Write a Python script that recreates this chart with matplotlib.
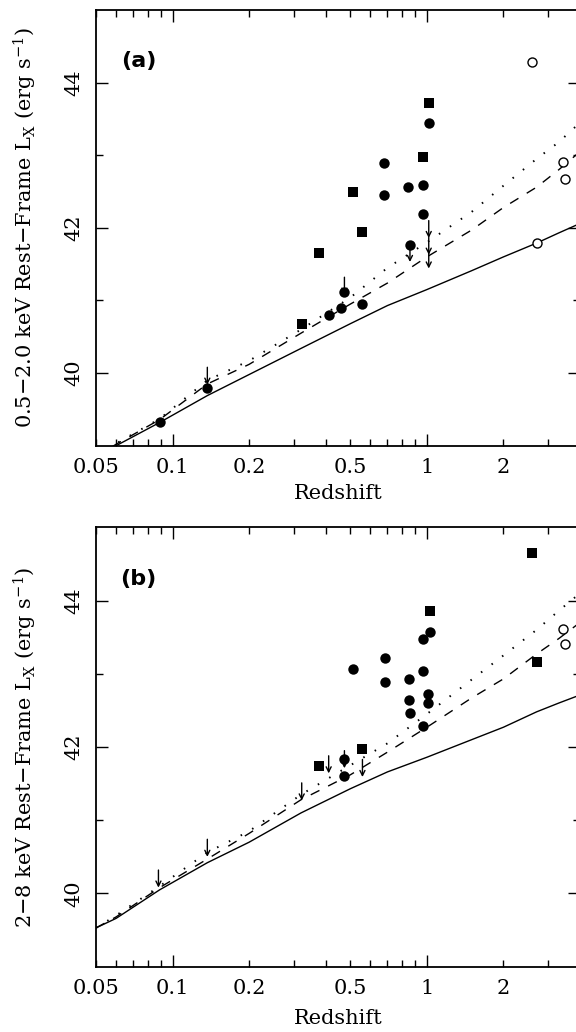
import numpy as np
import matplotlib
matplotlib.use('Agg')
import matplotlib.pyplot as plt
from matplotlib.ticker import FixedLocator, FuncFormatter

# ---------------- data ----------------
# model curves (common redshift grid)
z_curve = [0.05, 0.06, 0.089, 0.137, 0.2, 0.32, 0.5, 0.7, 1.0, 1.5, 2.0, 2.7, 3.3, 4.0]

solid_a = [38.85, 39.00, 39.32, 39.69, 39.98, 40.34, 40.68, 40.93, 41.15, 41.41, 41.60, 41.79, 41.93, 42.06]
dashed_a = [38.85, 39.02, 39.36, 39.85, 40.12, 40.55, 40.95, 41.24, 41.60, 41.97, 42.28, 42.56, 42.80, 43.05]
dotted_a = [38.85, 39.03, 39.37, 39.90, 40.17, 40.60, 41.04, 41.45, 41.80, 42.22, 42.58, 42.95, 43.18, 43.45]

solid_b = [39.53, 39.66, 40.05, 40.42, 40.70, 41.10, 41.43, 41.66, 41.86, 42.10, 42.27, 42.48, 42.60, 42.71]
dashed_b = [39.53, 39.68, 40.08, 40.47, 40.82, 41.28, 41.62, 41.93, 42.27, 42.67, 42.93, 43.27, 43.48, 43.70]
dotted_b = [39.53, 39.70, 40.10, 40.56, 40.85, 41.35, 41.75, 42.05, 42.45, 42.92, 43.25, 43.60, 43.86, 44.10]

# panel (a): 0.5-2.0 keV
za_circ = [0.089, 0.137, 0.411, 0.458, 0.474, 0.558, 0.680, 0.680, 0.844, 0.858, 0.964, 0.964, 1.023]
La_circ = [39.33, 39.80, 40.80, 40.89, 41.12, 40.95, 42.89, 42.45, 42.56, 41.77, 42.59, 42.19, 43.44]
za_sq = [0.322, 0.378, 0.513, 0.555, 0.964, 1.023]
La_sq = [40.67, 41.66, 42.50, 41.94, 42.98, 43.72]
za_open = [2.60, 3.43, 3.49, 2.71]
La_open = [44.28, 42.90, 42.67, 41.79]
za_ul = [0.137, 0.474, 0.858, 1.017, 1.017, 1.017]
La_ul = [40.08, 41.32, 41.77, 42.10, 41.87, 41.68]

# panel (b): 2-8 keV
zb_circ = [0.513, 0.684, 0.684, 0.850, 0.850, 0.858, 0.967, 0.967, 0.967, 1.028, 1.010, 1.010, 0.474, 0.474]
Lb_circ = [43.07, 43.22, 42.89, 42.93, 42.64, 42.46, 43.04, 43.48, 42.28, 43.57, 42.73, 42.60, 41.83, 41.61]
zb_sq = [0.378, 0.557, 1.028, 2.58, 2.70]
Lb_sq = [41.74, 41.97, 43.86, 44.65, 43.16]
zb_open = [3.43, 3.49]
Lb_open = [43.61, 43.41]
zb_ul = [0.088, 0.137, 0.322, 0.411, 0.474, 0.558]
Lb_ul = [40.32, 40.74, 41.51, 41.88, 41.95, 41.83]

xtick_vals = [0.05, 0.1, 0.2, 0.5, 1, 2]
xtick_labels = ['0.05', '0.1', '0.2', '0.5', '1', '2']
ytick_vals = [40, 42, 44]
ytick_labels = ['40', '42', '44']

xlabel = 'Redshift'
ylabel_a = '0.5\u22122.0 keV Rest\u2212Frame L$_{\\mathrm{X}}$ (erg s$^{-1}$)'
ylabel_b = '2\u22128 keV Rest\u2212Frame L$_{\\mathrm{X}}$ (erg s$^{-1}$)'
panel_a = '(a)'
panel_b = '(b)'

# ---------------- styling ----------------
plt.rcParams['font.family'] = ['DejaVu Serif']
plt.rcParams['mathtext.fontset'] = 'dejavuserif'
ARROW_LEN = 0.24

fig = plt.figure(figsize=(5.76, 10.32), dpi=100)
ax_a = fig.add_axes([96/576, 1 - 445.7/1032, 484/576, 435.7/1032])
ax_b = fig.add_axes([96/576, 1 - 966.7/1032, 484/576, 439.4/1032])

lab_map = dict(zip(xtick_vals, xtick_labels))


def xfmt(v, pos):
    for k, s in lab_map.items():
        if abs(v - k) < 1e-6 * k:
            return s
    return ''


minor_x = [0.05, 0.06, 0.07, 0.08, 0.09, 0.2, 0.3, 0.4, 0.5, 0.6, 0.7, 0.8, 0.9, 2, 3, 4]


def setup(ax, ylab, plabel, xlabel_y, bold):
    ax.set_xscale('log')
    ax.set_xlim(0.05, 4)
    ax.set_ylim(39, 45)
    ax.xaxis.set_major_locator(FixedLocator([0.1, 1]))
    ax.xaxis.set_minor_locator(FixedLocator(minor_x))
    ax.xaxis.set_major_formatter(FuncFormatter(xfmt))
    ax.xaxis.set_minor_formatter(FuncFormatter(xfmt))
    ax.yaxis.set_major_locator(FixedLocator(ytick_vals))
    ax.set_yticklabels(ytick_labels)
    ax.yaxis.set_minor_locator(FixedLocator([41, 43]))
    ax.tick_params(which='both', direction='in', top=True, right=True,
                   labelsize=15, pad=9, width=1.0)
    ax.tick_params(which='major', length=8.5)
    ax.tick_params(which='minor', length=5)
    ax.tick_params(axis='y', labelrotation=90)
    for t in ax.get_yticklabels():
        t.set_va('center')
    for s in ax.spines.values():
        s.set_linewidth(1.3)
    ax.set_xlabel(xlabel, fontsize=15)
    ax.xaxis.set_label_coords(0.5, xlabel_y)
    ax.set_ylabel(ylab, fontsize=15)
    ax.yaxis.set_label_coords(-0.118, 0.5)
    ax.text(0.088, 0.882, plabel, transform=ax.transAxes, fontsize=16,
            family='DejaVu Sans', fontweight='bold' if bold else 'semibold',
            ha='center', va='center')


def draw(ax, solid, dashed, dotted, zc, Lc, zs, Ls, zo, Lo, zu, Lu):
    ax.plot(z_curve, solid, color='k', lw=1.0, ls='-')
    ax.plot(z_curve, dashed, color='k', lw=1.0, ls=(0, (7, 7)))
    ax.plot(z_curve, dotted, color='k', lw=1.4, ls=(0, (0.8, 6)))
    ax.plot(zc, Lc, 'o', color='k', ms=7.5, mew=0)
    ax.plot(zs, Ls, 's', color='k', ms=6.8, mew=0)
    ax.plot(zo, Lo, 'o', mfc='white', mec='k', ms=6.5, mew=1.0)
    for z, L in zip(zu, Lu):
        ax.annotate('', xy=(z, L - ARROW_LEN), xytext=(z, L),
                    arrowprops=dict(arrowstyle='->', color='k', lw=1.0,
                                    shrinkA=0, shrinkB=0, mutation_scale=9))


draw(ax_a, solid_a, dashed_a, dotted_a, za_circ, La_circ, za_sq, La_sq,
     za_open, La_open, za_ul, La_ul)
draw(ax_b, solid_b, dashed_b, dotted_b, zb_circ, Lb_circ, zb_sq, Lb_sq,
     zb_open, Lb_open, zb_ul, Lb_ul)
setup(ax_a, ylabel_a, panel_a, -0.088, True)
setup(ax_b, ylabel_b, panel_b, -0.097, False)

fig.savefig('out.png', dpi=100)
